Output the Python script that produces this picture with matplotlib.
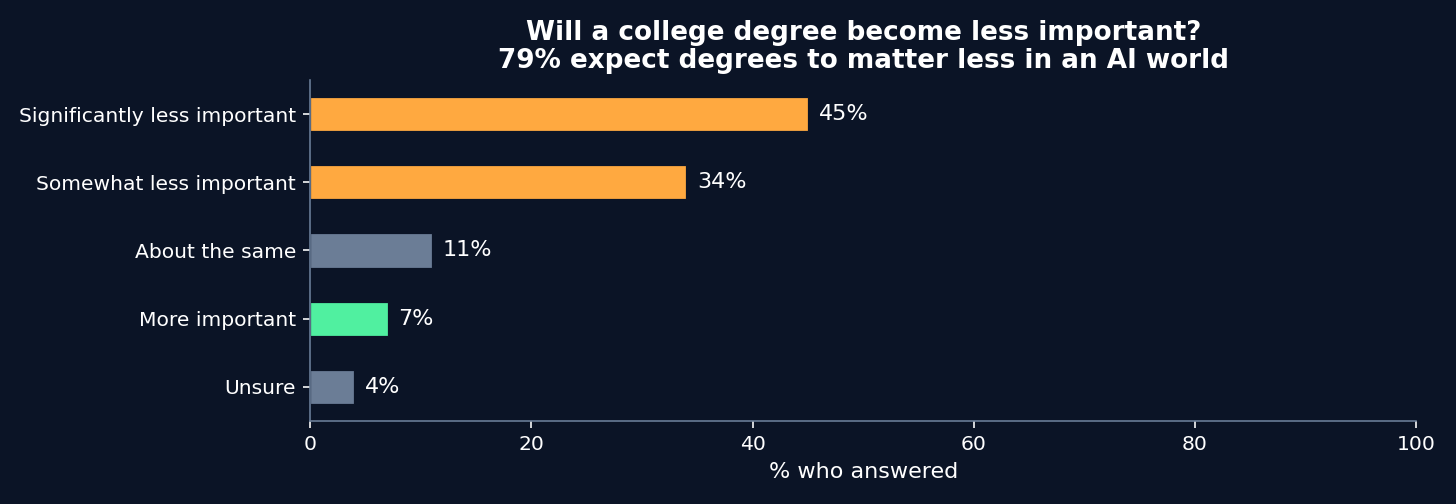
import matplotlib
matplotlib.use("Agg")
import matplotlib.pyplot as plt

categories = ["Significantly less important", "Somewhat less important",
              "About the same", "More important", "Unsure"]
values = [45, 34, 11, 7, 4]
bar_colors = ["#ffa940", "#ffa940", "#6b7d96", "#50f0a0", "#6b7d96"]
xticks = [0, 20, 40, 60, 80, 100]

BG = "#0b1426"
AX = "#6b7f99"

DPI = 145.6
fig = plt.figure(figsize=(1456 / DPI, 504 / DPI), dpi=DPI, facecolor=BG)
ax = fig.add_axes([0.213, 0.165, 0.7597, 0.676], facecolor=BG)

y = list(range(len(categories)))[::-1]
ax.barh(y, values, height=0.5, color=bar_colors, edgecolor=BG, linewidth=0.6)
for yi, v in zip(y, values):
    ax.text(v + 1.0, yi, f"{v}%", va="center", ha="left", color="white", fontsize=11)

ax.set_yticks(y)
ax.set_yticklabels(categories)
ax.set_ylim(-0.5, 4.5)
ax.set_xlim(0, 100)
ax.set_xticks(xticks)
ax.tick_params(colors="white", labelsize=10)
ax.set_xlabel("% who answered", color="white", fontsize=11)

for s in ["top", "right"]:
    ax.spines[s].set_visible(False)
for s in ["left", "bottom"]:
    ax.spines[s].set_color(AX)

ax.set_title("Will a college degree become less important?\n79% expect degrees to matter less in an AI world",
             color="white", fontsize=13, fontweight="bold", pad=6, linespacing=1.1)

fig.savefig("out.png", dpi=DPI, facecolor=BG)
